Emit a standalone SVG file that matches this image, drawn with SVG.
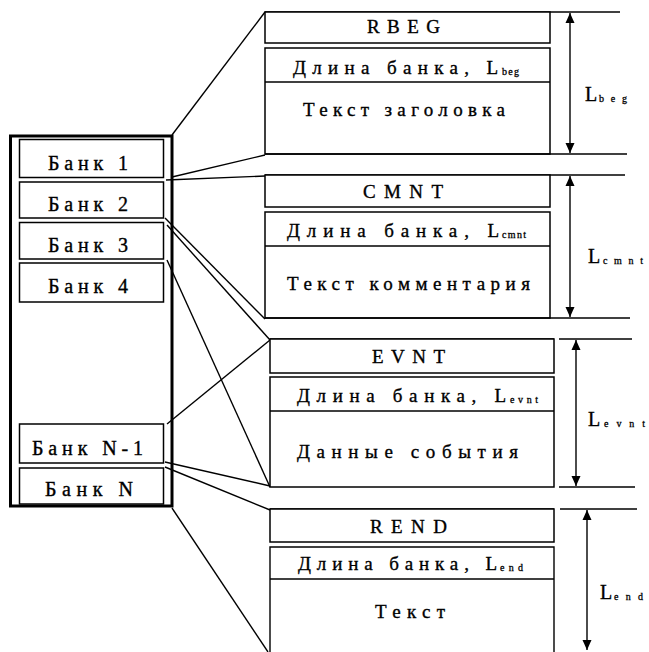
<svg xmlns="http://www.w3.org/2000/svg" width="649" height="652" viewBox="0 0 649 652">
<style>
.ln{stroke:#000;stroke-width:1.4;fill:none}
.bx{stroke:#000;stroke-width:1.5;fill:#fff}
.t{font-family:"Liberation Serif","Times New Roman",serif;font-size:19px;fill:#000;stroke:#000;stroke-width:0.35}
.b{font-family:"Liberation Serif","Times New Roman",serif;font-size:20px;fill:#000;stroke:#000;stroke-width:0.35}
.s{font-family:"Liberation Serif","Times New Roman",serif;font-size:10px;fill:#000;stroke:#000;stroke-width:0.3}
.L{font-family:"Liberation Serif","Times New Roman",serif;font-size:20px;fill:#000;stroke:#000;stroke-width:0.35}
</style>
<defs>
<marker id="ah" markerUnits="userSpaceOnUse" markerWidth="10" markerHeight="10" viewBox="0 0 10 10" refX="10" refY="5" orient="auto-start-reverse">
<path d="M0,0.5 L10,5 L0,9.5 z" fill="#000"/>
</marker>
</defs>
<rect width="649" height="652" fill="#fff"/>

<g id="connectors">
<line class="ln" x1="172" y1="135" x2="265" y2="12"/>
<line class="ln" x1="172" y1="177" x2="265" y2="155"/>
<line class="ln" x1="166" y1="180" x2="265" y2="176"/>
<line class="ln" x1="165" y1="218" x2="265" y2="319"/>
<line class="ln" x1="167" y1="225" x2="270" y2="340"/>
<line class="ln" x1="167" y1="260" x2="270" y2="487"/>
<line class="ln" x1="167" y1="424" x2="270" y2="340"/>
<line class="ln" x1="165" y1="462" x2="270" y2="486"/>
<line class="ln" x1="165" y1="467" x2="270" y2="510"/>
<line class="ln" x1="172" y1="508" x2="268" y2="652"/>
</g>

<g id="panel">
<rect x="10.5" y="136" width="161.5" height="370" fill="none" stroke="#000" stroke-width="3"/>
</g>
<g id="bank1"><rect class="bx" x="19.5" y="139.5" width="144" height="38"/><text class="b" x="48" y="170" textLength="80" lengthAdjust="spacing">Банк 1</text></g>
<g id="bank2"><rect class="bx" x="19.5" y="182" width="144" height="36"/><text class="b" x="48" y="211" textLength="80" lengthAdjust="spacing">Банк 2</text></g>
<g id="bank3"><rect class="bx" x="19.5" y="222.5" width="144" height="36.5"/><text class="b" x="48" y="252" textLength="80" lengthAdjust="spacing">Банк 3</text></g>
<g id="bank4"><rect class="bx" x="19.5" y="263" width="144" height="39"/><text class="b" x="48" y="293" textLength="80" lengthAdjust="spacing">Банк 4</text></g>
<g id="bankN1"><rect class="bx" x="19.5" y="424" width="144" height="39"/><text class="b" x="32" y="455" textLength="111" lengthAdjust="spacing">Банк N-1</text></g>
<g id="bankN"><rect class="bx" x="19.5" y="468" width="144" height="36"/><text class="b" x="45" y="496" textLength="88" lengthAdjust="spacing">Банк N</text></g>

<g id="rbeg">
<line class="ln" x1="265" y1="12" x2="620" y2="12"/>
<rect class="bx" x="265" y="12" width="285" height="31"/>
<rect class="bx" x="265" y="48" width="285" height="106"/>
<line class="ln" x1="265" y1="82" x2="550" y2="82"/>
<line class="ln" x1="265" y1="154" x2="627" y2="154"/>
<text class="t" x="367" y="33" textLength="73" lengthAdjust="spacing">RBEG</text>
<text class="t" x="293" y="74" textLength="205" lengthAdjust="spacing">Длина банка, L</text>
<text class="s" x="502" y="75" textLength="17" lengthAdjust="spacing">beg</text>
<text class="t" x="303" y="116" textLength="202" lengthAdjust="spacing">Текст заголовка</text>
<line class="ln" x1="570" y1="13" x2="570" y2="153" marker-start="url(#ah)" marker-end="url(#ah)"/>
<text class="L" x="585" y="101">L</text>
<text class="s" x="599" y="102" textLength="28" lengthAdjust="spacing">beg</text>
</g>

<g id="cmnt">
<line class="ln" x1="265" y1="175" x2="625" y2="175"/>
<rect class="bx" x="265" y="175" width="285" height="32"/>
<rect class="bx" x="265" y="212" width="285" height="106"/>
<line class="ln" x1="265" y1="246" x2="550" y2="246"/>
<line class="ln" x1="265" y1="318" x2="630" y2="318"/>
<text class="t" x="363" y="198" textLength="80" lengthAdjust="spacing">CMNT</text>
<text class="t" x="287" y="237" textLength="212" lengthAdjust="spacing">Длина банка, L</text>
<text class="s" x="502" y="238" textLength="24" lengthAdjust="spacing">cmnt</text>
<text class="t" x="287" y="290" textLength="243" lengthAdjust="spacing">Текст комментария</text>
<line class="ln" x1="570" y1="176" x2="570" y2="317" marker-start="url(#ah)" marker-end="url(#ah)"/>
<text class="L" x="588" y="263">L</text>
<text class="s" x="603" y="264" textLength="40" lengthAdjust="spacing">cmnt</text>
</g>

<g id="evnt">
<line class="ln" x1="270" y1="339" x2="554" y2="339"/>
<line class="ln" x1="559" y1="339" x2="632" y2="339"/>
<rect class="bx" x="270" y="339" width="284" height="34"/>
<rect class="bx" x="270" y="377" width="284" height="110"/>
<line class="ln" x1="270" y1="411" x2="554" y2="411"/>
<line class="ln" x1="559" y1="487" x2="635" y2="487"/>
<text class="t" x="372" y="363" textLength="73" lengthAdjust="spacing">EVNT</text>
<text class="t" x="297" y="402" textLength="209" lengthAdjust="spacing">Длина банка, L</text>
<text class="s" x="510" y="403" textLength="28" lengthAdjust="spacing">evnt</text>
<text class="t" x="297" y="458" textLength="221" lengthAdjust="spacing">Данные события</text>
<line class="ln" x1="576" y1="340" x2="576" y2="486" marker-start="url(#ah)" marker-end="url(#ah)"/>
<text class="L" x="588" y="426">L</text>
<text class="s" x="604" y="427" textLength="41" lengthAdjust="spacing">evnt</text>
</g>

<g id="rend">
<line class="ln" x1="270" y1="509" x2="554" y2="509"/>
<line class="ln" x1="560" y1="509" x2="637" y2="509"/>
<rect class="bx" x="270" y="509" width="284" height="33"/>
<path class="ln" d="M270,660 V547 H554 V660"/>
<line class="ln" x1="270" y1="579" x2="554" y2="579"/>
<text class="t" x="370" y="533" textLength="77" lengthAdjust="spacing">REND</text>
<text class="t" x="298" y="570" textLength="199" lengthAdjust="spacing">Длина банка, L</text>
<text class="s" x="500" y="571" textLength="23" lengthAdjust="spacing">end</text>
<text class="t" x="375" y="618" textLength="70" lengthAdjust="spacing">Текст</text>
<line class="ln" x1="587" y1="510" x2="587" y2="650" marker-start="url(#ah)" marker-end="url(#ah)"/>
<text class="L" x="600" y="599">L</text>
<text class="s" x="614" y="600" textLength="29" lengthAdjust="spacing">end</text>
</g>
</svg>
